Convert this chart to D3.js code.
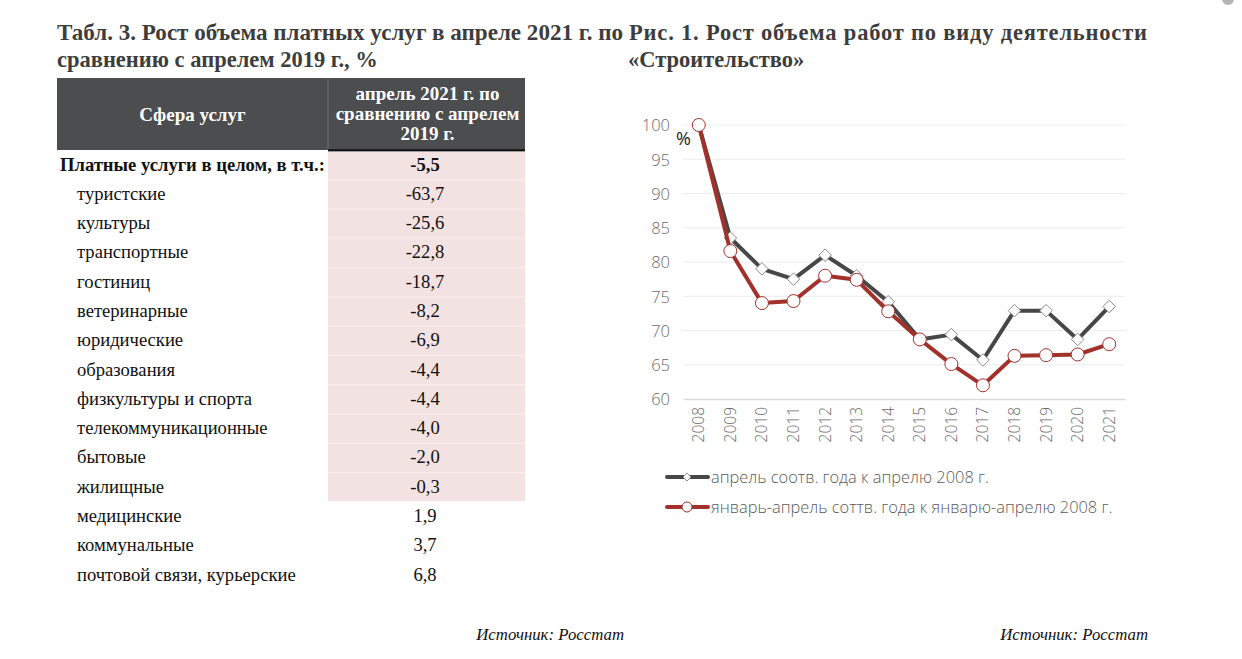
<!DOCTYPE html>
<html><head><meta charset="utf-8">
<script src="https://cdn.jsdelivr.net/npm/d3@7"></script>
<style>
html,body{margin:0;padding:0;background:#fff;}
svg{display:block;}
</style></head>
<body>
<svg id="c" width="1242" height="659"></svg>
<script>
// ---------- DATA ----------
const years = ["2008","2009","2010","2011","2012","2013","2014","2015","2016","2017","2018","2019","2020","2021"];
const aprilSeries = [100, 83.5, 79.0, 77.5, 81.0, 78.0, 74.2, 68.7, 69.4, 65.7, 72.9, 72.9, 68.7, 73.5];
const janAprSeries = [100, 81.6, 74.0, 74.3, 78.0, 77.4, 72.8, 68.7, 65.1, 62.0, 66.3, 66.4, 66.5, 68.0];
const yTicks = [60, 65, 70, 75, 80, 85, 90, 95, 100];
const seriesNames = ["апрель соотв. года к апрелю 2008 г.", "январь-апрель соттв. года к январю-апрелю 2008 г."];

const services = ["Платные услуги в целом, в т.ч.:", "туристские", "культуры", "транспортные", "гостиниц", "ветеринарные", "юридические", "образования", "физкультуры и спорта", "телекоммуникационные", "бытовые", "жилищные", "медицинские", "коммунальные", "почтовой связи, курьерские"];
const serviceValues = ["-5,5", "-63,7", "-25,6", "-22,8", "-18,7", "-8,2", "-6,9", "-4,4", "-4,4", "-4,0", "-2,0", "-0,3", "1,9", "3,7", "6,8"];
const tableHeaders = ["Сфера услуг", ["апрель 2021 г. по", "сравнению с апрелем", "2019 г."]];

// ---------- SETUP ----------
const svg = d3.select("#c");
const serif = "'Liberation Serif','Times New Roman',serif";
const sans = "'Open Sans','DejaVu Sans',sans-serif";
const titleColor = "#3d3d3d";

// top-right blob
svg.append("circle").attr("cx", 1228).attr("cy", -1).attr("r", 6).attr("fill", "#b5b5b5");

// ---------- LEFT TITLE ----------
svg.append("text").attr("x", 57).attr("y", 40).attr("font-family", serif).attr("font-weight", "bold")
  .attr("font-size", 22.5).attr("fill", titleColor)
  .attr("textLength", 566).attr("lengthAdjust", "spacingAndGlyphs")
  .text("Табл. 3. Рост объема платных услуг в апреле 2021 г. по");
svg.append("text").attr("x", 57).attr("y", 67).attr("font-family", serif).attr("font-weight", "bold")
  .attr("font-size", 22.5).attr("fill", titleColor)
  .text("сравнению с апрелем 2019 г., %");

// ---------- TABLE ----------
const tX0 = 57, tDiv = 328, tX1 = 525, hY0 = 78, hY1 = 150;
svg.append("rect").attr("x", tX0).attr("y", hY0).attr("width", tX1 - tX0).attr("height", hY1 - hY0).attr("fill", "#4b4d4f");
svg.append("line").attr("x1", tDiv).attr("x2", tDiv).attr("y1", hY0).attr("y2", hY1).attr("stroke", "#6a6c6e").attr("stroke-width", 1);
svg.append("text").attr("x", (tX0 + tDiv) / 2).attr("y", 121).attr("text-anchor", "middle")
  .attr("font-family", serif).attr("font-weight", "bold").attr("font-size", 19).attr("fill", "#fff").text(tableHeaders[0]);
tableHeaders[1].forEach((t, i) => {
  svg.append("text").attr("x", (tDiv + tX1) / 2 + 1).attr("y", 100 + i * 20).attr("text-anchor", "middle")
    .attr("font-family", serif).attr("font-weight", "bold").attr("font-size", 19).attr("fill", "#fff").text(t);
});
svg.append("line").attr("x1", tDiv).attr("x2", tX1).attr("y1", hY1 + 0.5).attr("y2", hY1 + 0.5).attr("stroke", "#111").attr("stroke-width", 2.5);

const rowY = d3.scaleBand().domain(d3.range(services.length)).range([150.4, 150.4 + 29.29 * services.length]);
const negCount = serviceValues.filter(v => v.startsWith("-")).length;
svg.append("rect").attr("x", tDiv).attr("y", 151.5).attr("width", tX1 - tDiv)
  .attr("height", 501 - 151.5).attr("fill", "#f3e2e2");
// faint row separators in pink area
d3.range(1, negCount).forEach(i => {
  svg.append("line").attr("x1", tDiv).attr("x2", tX1).attr("y1", rowY(i)).attr("y2", rowY(i)).attr("stroke", "#f9efef").attr("stroke-width", 1);
});
services.forEach((s, i) => {
  const cy = rowY(i) + rowY.bandwidth() / 2 + 5.5;
  svg.append("text").attr("x", i === 0 ? 60 : 77).attr("y", cy)
    .attr("font-family", serif).attr("font-weight", i === 0 ? "bold" : "normal")
    .attr("font-size", 18.6).attr("fill", "#111").text(s);
  svg.append("text").attr("x", 425).attr("y", cy).attr("text-anchor", "middle")
    .attr("font-family", serif).attr("font-weight", i === 0 ? "bold" : "normal")
    .attr("font-size", 18.6).attr("fill", "#111").text(serviceValues[i]);
});

// ---------- RIGHT TITLE ----------
svg.append("text").attr("x", 629).attr("y", 40).attr("font-family", serif).attr("font-weight", "bold")
  .attr("font-size", 22.5).attr("fill", titleColor)
  .attr("textLength", 518).attr("lengthAdjust", "spacing")
  .text("Рис. 1. Рост объема работ по виду деятельности");
svg.append("text").attr("x", 628).attr("y", 67).attr("font-family", serif).attr("font-weight", "bold")
  .attr("font-size", 22.5).attr("fill", titleColor)
  .text("«Строительство»");

// ---------- LINE CHART ----------
const x = d3.scaleBand().domain(years).range([683, 1125]);
const y = d3.scaleLinear().domain([60, 100]).range([399, 125]);
const xc = d => x(d) + x.bandwidth() / 2;

const g = svg.append("g");
g.selectAll("line.grid").data(yTicks.filter(t => t > 60)).join("line").attr("class", "grid")
  .attr("x1", 683).attr("x2", 1125).attr("y1", d => y(d)).attr("y2", d => y(d))
  .attr("stroke", "#ececec").attr("stroke-width", 1);
const yAxis = d3.axisLeft(y).tickValues(yTicks).tickSize(0).tickPadding(0);
const yg = svg.append("g").attr("transform", "translate(670,0)").call(yAxis);
yg.select(".domain").remove();
yg.selectAll("text").attr("font-family", sans).attr("font-weight", 300).attr("font-size", 16.5).attr("fill", "#6a6a6a").attr("dy", "0.35em");
const xAxis = d3.axisBottom(x).tickSize(0).tickPadding(0);
const xg = svg.append("g").attr("transform", "translate(0,399)").call(xAxis);
xg.select(".domain").attr("stroke", "#d9d9d9").attr("stroke-width", 1.5);
xg.selectAll("text").attr("font-family", sans).attr("font-weight", 300).attr("font-size", 15.5).attr("fill", "#6a6a6a")
  .attr("transform", "rotate(-90)").attr("text-anchor", "end").attr("x", -8).attr("y", 0).attr("dy", "0.35em");

svg.append("text").attr("x", 676).attr("y", 145).attr("font-family", sans).attr("font-size", 18).attr("fill", "#222").text("%");

const line = d3.line().x((d, i) => xc(years[i])).y(d => y(d));
const darkColor = "#474747", redColor = "#a2312b";

svg.append("path").datum(aprilSeries).attr("d", line).attr("fill", "none").attr("stroke", darkColor).attr("stroke-width", 4).attr("stroke-linejoin", "round");
svg.selectAll("path.dm").data(aprilSeries).join("path").attr("class", "dm")
  .attr("d", d3.symbol().type(d3.symbolDiamond2).size(100))
  .attr("transform", (d, i) => `translate(${xc(years[i])},${y(d)})`)
  .attr("fill", "#fff").attr("stroke", "#8a8a8a").attr("stroke-width", 1);

svg.append("path").datum(janAprSeries).attr("d", line).attr("fill", "none").attr("stroke", redColor).attr("stroke-width", 4).attr("stroke-linejoin", "round");
svg.selectAll("circle.cm").data(janAprSeries).join("circle").attr("class", "cm")
  .attr("cx", (d, i) => xc(years[i])).attr("cy", d => y(d)).attr("r", 6.5)
  .attr("fill", "#fff").attr("stroke", redColor).attr("stroke-width", 1);

// legend
const legY = [477, 507];
const legColors = [darkColor, redColor];
seriesNames.forEach((n, i) => {
  svg.append("line").attr("x1", 667).attr("x2", 708).attr("y1", legY[i]).attr("y2", legY[i])
    .attr("stroke", legColors[i]).attr("stroke-width", 4).attr("stroke-linecap", "round");
  if (i === 0) {
    svg.append("path").attr("d", d3.symbol().type(d3.symbolDiamond2).size(40)).attr("transform", `translate(687,${legY[i]})`)
      .attr("fill", "#fff").attr("stroke", "#8a8a8a").attr("stroke-width", 1);
  } else {
    svg.append("circle").attr("cx", 687).attr("cy", legY[i]).attr("r", 5).attr("fill", "#fff").attr("stroke", redColor).attr("stroke-width", 1);
  }
  svg.append("text").attr("x", 711).attr("y", legY[i] + 5.5).attr("font-family", sans).attr("font-weight", 300)
    .attr("font-size", 16.4).attr("fill", "#5a5a5a").text(n);
});

// sources
[624, 1148].forEach(x1 => {
  svg.append("text").attr("x", x1).attr("y", 640).attr("text-anchor", "end").attr("font-family", serif)
    .attr("font-style", "italic").attr("font-size", 16.8).attr("fill", "#111").text("Источник: Росстат");
});
</script>
</body></html>
